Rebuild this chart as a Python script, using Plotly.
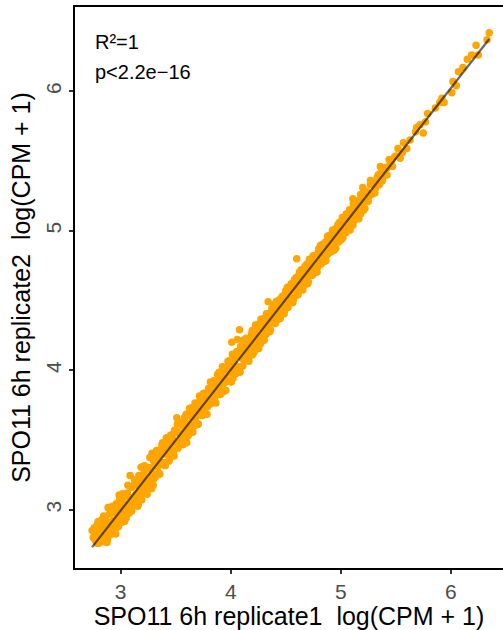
import numpy as np
import plotly.graph_objects as go

# log(CPM + 1) per bin, replicate 1 (x) and replicate 2 (y)
rep1 = [
    2.74, 2.75, 2.76, 2.77, 2.78, 2.79, 2.80, 2.81, 2.82, 2.83,
    2.84, 2.85, 2.85, 2.86, 2.87, 2.88, 2.88, 2.89, 2.90, 2.90,
    2.91, 2.92, 2.93, 2.93, 2.94, 2.95, 2.95, 2.96, 2.97, 2.97,
    2.98, 2.99, 3.00, 3.00, 3.01, 3.02, 3.02, 3.03, 3.04, 3.05,
    3.05, 3.06, 3.07, 3.08, 3.08, 3.09, 3.10, 3.10, 3.11, 3.12,
    3.13, 3.13, 3.14, 3.15, 3.15, 3.16, 3.17, 3.18, 3.18, 3.19,
    3.20, 3.21, 3.21, 3.22, 3.23, 3.24, 3.24, 3.25, 3.26, 3.27,
    3.27, 3.28, 3.29, 3.30, 3.30,
    3.31, 3.32, 3.33, 3.33, 3.34, 3.35, 3.36, 3.37, 3.38, 3.38,
    3.39, 3.40, 3.41, 3.42, 3.42, 3.43, 3.44, 3.45, 3.46, 3.46,
    3.47, 3.48, 3.49, 3.50, 3.51, 3.51, 3.52, 3.53, 3.54, 3.55,
    3.55, 3.56, 3.57, 3.58, 3.59, 3.60, 3.60, 3.61, 3.62, 3.63,
    3.64, 3.64, 3.65, 3.66, 3.67, 3.68, 3.68, 3.69, 3.70, 3.71,
    3.72, 3.72, 3.73, 3.74, 3.75, 3.76, 3.77, 3.77, 3.78, 3.79,
    3.80, 3.80, 3.81, 3.82, 3.83, 3.84, 3.85, 3.85, 3.86, 3.87,
    3.88, 3.88, 3.89, 3.90, 3.91, 3.92, 3.92, 3.93, 3.94, 3.95,
    3.96, 3.96, 3.97, 3.98, 3.99, 4.00, 4.01, 4.01, 4.02, 4.03,
    4.04, 4.05, 4.05, 4.06, 4.07, 4.08, 4.08, 4.09, 4.10, 4.11,
    4.11, 4.12, 4.13, 4.14, 4.14, 4.15, 4.16, 4.17, 4.18, 4.18,
    4.19, 4.20, 4.21, 4.22, 4.22, 4.23, 4.24, 4.25, 4.26, 4.27,
    4.27, 4.28, 4.29, 4.30, 4.30,
    4.31, 4.32, 4.33, 4.34, 4.34, 4.35, 4.36, 4.37, 4.38, 4.39,
    4.39, 4.40, 4.41, 4.42, 4.43, 4.43, 4.44, 4.45, 4.46, 4.47,
    4.47, 4.48, 4.49, 4.50, 4.51, 4.52, 4.52, 4.53, 4.54, 4.55,
    4.55, 4.56, 4.57, 4.58, 4.59, 4.60, 4.60, 4.61, 4.62, 4.63,
    4.64, 4.64, 4.65, 4.66, 4.67, 4.68, 4.68, 4.69, 4.70, 4.71,
    4.72, 4.72, 4.73, 4.74, 4.75, 4.76, 4.77, 4.77, 4.78, 4.79,
    4.80, 4.80, 4.81, 4.82, 4.83, 4.84, 4.85, 4.85, 4.86, 4.87,
    4.88, 4.88, 4.89, 4.90, 4.91, 4.92, 4.92, 4.93, 4.94, 4.95,
    4.96, 4.96, 4.97, 4.98, 4.99, 5.00, 5.01, 5.02, 5.03, 5.04,
    5.05, 5.05, 5.06, 5.07, 5.08, 5.09, 5.10, 5.11, 5.12, 5.13,
    5.14, 5.15, 5.16, 5.17, 5.18, 5.19, 5.20,
    5.21, 5.22, 5.24, 5.25, 5.27, 5.28, 5.30, 5.31, 5.33, 5.35,
    5.36, 5.38, 5.40, 5.42, 5.45, 5.47,
    6.35, 6.33, 6.23, 6.19, 6.25, 6.15, 6.07, 6.11, 6.02, 6.05,
    6.01, 5.92, 5.90, 5.94, 5.86, 5.79, 5.77, 5.72, 5.69, 5.68,
    5.75, 5.63, 5.57, 5.52, 5.60, 5.56, 5.49, 5.54, 5.44, 5.36,
    5.42, 5.39, 5.34, 5.31, 5.27, 5.20, 5.24, 5.18, 5.11,
    # second pass of bins, offset half a step
    2.785, 2.795, 2.805, 2.815, 2.825, 2.835, 2.845, 2.855, 2.865, 2.875,
    2.885, 2.895, 2.905, 2.915, 2.925, 2.935, 2.945, 2.955, 2.965, 2.975,
    2.985, 2.995, 3.005, 3.015, 3.025, 3.035, 3.045, 3.055, 3.065, 3.075,
    3.085, 3.095, 3.105, 3.115, 3.125, 3.135, 3.145, 3.155, 3.165, 3.175,
    3.185, 3.195, 3.205, 3.215, 3.225, 3.235, 3.245, 3.255, 3.265, 3.275,
    3.285, 3.295, 3.305,
    3.315, 3.325, 3.335, 3.345, 3.355, 3.365, 3.375, 3.385, 3.395, 3.405,
    3.415, 3.425, 3.435, 3.445, 3.455, 3.465, 3.475, 3.485, 3.495, 3.505,
    3.515, 3.525, 3.535, 3.545, 3.555, 3.565, 3.575, 3.585, 3.595, 3.605,
    3.615, 3.625, 3.635, 3.645, 3.655, 3.665, 3.675, 3.685, 3.695, 3.705,
    3.715, 3.725, 3.735, 3.745, 3.755, 3.765, 3.775, 3.785, 3.795, 3.805,
    3.815, 3.825, 3.835, 3.845, 3.855, 3.865, 3.875, 3.885, 3.895, 3.905,
    3.915, 3.925, 3.935, 3.945, 3.955, 3.965, 3.975, 3.985, 3.995, 4.005,
    4.015, 4.025, 4.035, 4.045, 4.055, 4.065, 4.075, 4.085, 4.095, 4.105,
    4.115, 4.125, 4.135, 4.145, 4.155, 4.165, 4.175, 4.185, 4.195, 4.205,
    4.215, 4.225, 4.235, 4.245, 4.255, 4.265, 4.275, 4.285, 4.295, 4.305,
    4.315, 4.325, 4.335, 4.345, 4.355, 4.365, 4.375, 4.385, 4.395, 4.405,
    4.415, 4.425, 4.435, 4.445, 4.455, 4.465, 4.475, 4.485, 4.495, 4.505,
    4.515, 4.525, 4.535, 4.545, 4.555, 4.565, 4.575, 4.585, 4.595, 4.605,
    4.615, 4.625, 4.635, 4.645, 4.655, 4.665, 4.675, 4.685, 4.695, 4.705,
    4.715, 4.725, 4.735, 4.745, 4.755, 4.765, 4.775, 4.785, 4.795, 4.805,
    4.815, 4.825, 4.835, 4.845, 4.855, 4.865, 4.875, 4.885, 4.895, 4.905,
    4.915, 4.925, 4.935, 4.945, 4.955, 4.965, 4.975, 4.985, 4.995, 5.005,
    5.015, 5.025, 5.035, 5.045, 5.055, 5.065, 5.075, 5.085, 5.095, 5.105,
    5.115, 5.125, 5.135, 5.145, 5.155, 5.165, 5.175, 5.185, 5.195, 5.205,
    5.225, 5.255, 5.285, 5.315, 5.345, 5.375, 5.415, 5.465, 5.505,
]

rep2 = [
    2.85, 2.80, 2.87, 2.78, 2.83, 2.90, 2.76, 2.85, 2.81, 2.93,
    2.77, 2.88, 2.80, 2.95, 2.84, 2.79, 2.91, 2.86, 2.97, 2.82,
    2.89, 2.84, 3.01, 2.92, 2.87, 2.98, 2.86, 3.04, 2.90, 2.95,
    2.88, 3.07, 2.93, 3.01, 2.91, 3.06, 2.97, 3.10, 2.95, 3.03,
    2.94, 3.12, 3.00, 2.98, 3.09, 3.04, 3.16, 2.99, 3.07, 3.03,
    3.20, 3.05, 3.11, 3.08, 3.18, 3.04, 3.14, 3.10, 3.21, 3.07,
    3.16, 3.12, 3.26, 3.14, 3.19, 3.11, 3.29, 3.22, 3.17, 3.30,
    3.21, 3.15, 3.26, 3.22, 3.35,
    3.37, 3.25, 3.42, 3.31, 3.37, 3.26, 3.43, 3.34, 3.48, 3.33,
    3.40, 3.45, 3.34, 3.45, 3.40, 3.51, 3.35, 3.45, 3.52, 3.42,
    3.50, 3.42, 3.57, 3.48, 3.66, 3.56, 3.44, 3.55, 3.49, 3.62,
    3.52, 3.60, 3.51, 3.66, 3.58, 3.48, 3.62, 3.53, 3.68, 3.60,
    3.73, 3.59, 3.66, 3.71, 3.60, 3.71, 3.66, 3.76, 3.61, 3.71,
    3.78, 3.68, 3.76, 3.68, 3.83, 3.74, 3.82, 3.69, 3.80, 3.74,
    3.87, 3.77, 3.85, 3.76, 3.91, 3.83, 3.87, 3.77, 3.92, 3.84,
    3.97, 3.83, 3.90, 3.95, 3.84, 3.95, 3.90, 4.00, 3.85, 3.95,
    4.02, 3.92, 4.00, 3.92, 4.07, 3.98, 4.20, 4.06, 3.94, 4.05,
    3.99, 4.12, 4.02, 4.22, 4.11, 4.29, 4.02, 4.17, 4.09, 4.13,
    4.03, 4.18, 4.10, 4.23, 4.09, 4.16, 4.21, 4.10, 4.21, 4.16,
    4.26, 4.11, 4.21, 4.28, 4.18, 4.26, 4.18, 4.33, 4.24, 4.32,
    4.19, 4.30, 4.24, 4.37, 4.27,
    4.35, 4.26, 4.40, 4.49, 4.33, 4.37, 4.29, 4.42, 4.35, 4.47,
    4.34, 4.41, 4.46, 4.36, 4.46, 4.41, 4.50, 4.37, 4.46, 4.53,
    4.43, 4.51, 4.43, 4.57, 4.49, 4.57, 4.45, 4.55, 4.49, 4.62,
    4.52, 4.60, 4.51, 4.65, 4.58, 4.80, 4.62, 4.54, 4.68, 4.60,
    4.72, 4.59, 4.66, 4.71, 4.61, 4.71, 4.66, 4.76, 4.62, 4.71,
    4.78, 4.68, 4.76, 4.68, 4.82, 4.74, 4.82, 4.70, 4.80, 4.74,
    4.87, 4.77, 4.85, 4.76, 4.90, 4.83, 4.87, 4.78, 4.92, 4.84,
    4.96, 4.83, 4.90, 4.95, 4.85, 4.95, 4.90, 5.00, 4.86, 4.95,
    5.02, 4.92, 5.00, 4.92, 5.06, 4.98, 5.06, 4.95, 5.05, 4.99,
    5.12, 5.02, 5.10, 5.01, 5.15, 5.08, 5.12, 5.04, 5.18, 5.10,
    5.21, 5.10, 5.17, 5.22, 5.12, 5.22, 5.18,
    5.27, 5.16, 5.27, 5.21, 5.33, 5.26, 5.34, 5.27, 5.38, 5.33,
    5.41, 5.37, 5.44, 5.40, 5.49, 5.46,
    6.42, 6.37, 6.33, 6.26, 6.26, 6.23, 6.14, 6.17, 6.07, 6.04,
    5.99, 5.95, 5.92, 5.92, 5.88, 5.84, 5.78, 5.76, 5.74, 5.71,
    5.70, 5.65, 5.63, 5.59, 5.59, 5.56, 5.53, 5.52, 5.51, 5.46,
    5.45, 5.41, 5.40, 5.34, 5.36, 5.31, 5.28, 5.26, 5.23,
    # second pass of bins
    2.760, 2.915, 2.765, 2.905, 2.775, 2.885, 2.955, 2.785, 2.885, 2.765,
    3.015, 2.885, 2.975, 2.825, 3.025, 2.885, 2.985, 2.825, 3.045, 2.945,
    3.105, 2.915, 3.015, 3.115, 2.965, 2.915, 3.105, 3.035, 3.175, 2.975,
    3.245, 2.995, 3.165, 3.045, 3.215, 3.035, 3.185, 3.025, 3.245, 3.145,
    3.305, 3.115, 3.215, 3.315, 3.165, 3.115, 3.305, 3.235, 3.375, 3.175,
    3.405, 3.175, 3.345,
    3.235, 3.425, 3.305, 3.415, 3.255, 3.405, 3.465, 3.325, 3.415, 3.315,
    3.515, 3.415, 3.495, 3.375, 3.535, 3.425, 3.505, 3.385, 3.555, 3.485,
    3.615, 3.465, 3.545, 3.625, 3.505, 3.465, 3.625, 3.565, 3.685, 3.525,
    3.535, 3.725, 3.605, 3.715, 3.555, 3.705, 3.765, 3.625, 3.715, 3.615,
    3.815, 3.715, 3.795, 3.675, 3.835, 3.725, 3.805, 3.685, 3.855, 3.785,
    3.915, 3.765, 3.845, 3.925, 3.805, 3.765, 3.925, 3.865, 3.985, 3.825,
    3.835, 4.025, 3.905, 4.015, 3.855, 4.005, 4.065, 3.925, 4.015, 3.915,
    4.115, 4.015, 4.095, 3.975, 4.135, 4.025, 4.105, 3.985, 4.155, 4.085,
    4.215, 4.065, 4.145, 4.225, 4.105, 4.065, 4.225, 4.165, 4.285, 4.125,
    4.135, 4.325, 4.205, 4.315, 4.155, 4.305, 4.365, 4.225, 4.315, 4.215,
    4.255, 4.405, 4.315, 4.405, 4.275, 4.395, 4.445, 4.345, 4.405, 4.335,
    4.495, 4.415, 4.475, 4.385, 4.515, 4.435, 4.495, 4.405, 4.545, 4.485,
    4.595, 4.475, 4.535, 4.605, 4.515, 4.485, 4.615, 4.575, 4.665, 4.545,
    4.555, 4.705, 4.615, 4.705, 4.575, 4.695, 4.745, 4.645, 4.705, 4.635,
    4.795, 4.715, 4.775, 4.685, 4.815, 4.735, 4.795, 4.705, 4.845, 4.785,
    4.895, 4.775, 4.835, 4.905, 4.815, 4.785, 4.915, 4.875, 4.965, 4.845,
    4.855, 5.005, 4.915, 5.005, 4.875, 4.995, 5.045, 4.945, 5.005, 4.935,
    5.095, 5.015, 5.075, 4.985, 5.115, 5.035, 5.095, 5.005, 5.145, 5.085,
    5.195, 5.075, 5.135, 5.205, 5.115, 5.085, 5.215, 5.175, 5.265, 5.145,
    5.285, 5.245, 5.335, 5.305, 5.385, 5.355, 5.455, 5.505, 5.535,
]

axis_ticks = [3, 4, 5, 6]
stat_labels = ["R²=1", "p<2.2e−16"]

x = np.array(rep1)
y = np.array(rep2)

# least-squares fit, drawn across the observed range of replicate 1
slope, intercept = np.polyfit(x, y, 1)
fit_x = np.array([x.min(), x.max()])
fit_y = slope * fit_x + intercept

fig = go.Figure()
fig.add_trace(go.Scatter(
    x=x, y=y, mode="markers",
    marker=dict(color="#FFA500", size=7.5, line=dict(width=0)),
    hoverinfo="skip", showlegend=False,
))
fig.add_trace(go.Scatter(
    x=fit_x, y=fit_y, mode="lines",
    line=dict(color="rgba(0,0,0,0.6)", width=2.2),
    hoverinfo="skip", showlegend=False,
))

font_family = "Liberation Sans, Arial, Helvetica, sans-serif"

for label, ypos in zip(stat_labels, [0.9376, 0.8841]):
    fig.add_annotation(
        text=label, xref="paper", yref="paper", x=0.043, y=ypos,
        xanchor="left", yanchor="middle", showarrow=False,
        font=dict(family=font_family, size=20, color="black"),
    )

fig.update_layout(
    width=503, height=630,
    margin=dict(l=75, r=0, t=7, b=62),
    paper_bgcolor="white", plot_bgcolor="white",
    font=dict(family=font_family),
)
fig.update_xaxes(
    range=[2.5845, 6.475], tickvals=axis_ticks, ticks="outside", ticklen=4,
    tickwidth=1.5, tickcolor="#333333", showgrid=False, zeroline=False,
    showline=True, linecolor="black", linewidth=2, mirror=True,
    tickfont=dict(size=21, color="#4D4D4D"),
    title=dict(text="SPO11 6h replicate1  log(CPM + 1)",
               font=dict(size=25, color="black"), standoff=8),
)
fig.update_yaxes(
    range=[2.582, 6.604], tickvals=axis_ticks, ticks="outside", ticklen=4,
    tickwidth=1.5, tickcolor="#333333", showgrid=False, zeroline=False,
    showline=True, linecolor="black", linewidth=2, tickangle=-90,
    tickfont=dict(size=21, color="#4D4D4D"),
    title=dict(text="SPO11 6h replicate2  log(CPM + 1)",
               font=dict(size=25, color="black"), standoff=4),
)

fig.write_html("out.html")
